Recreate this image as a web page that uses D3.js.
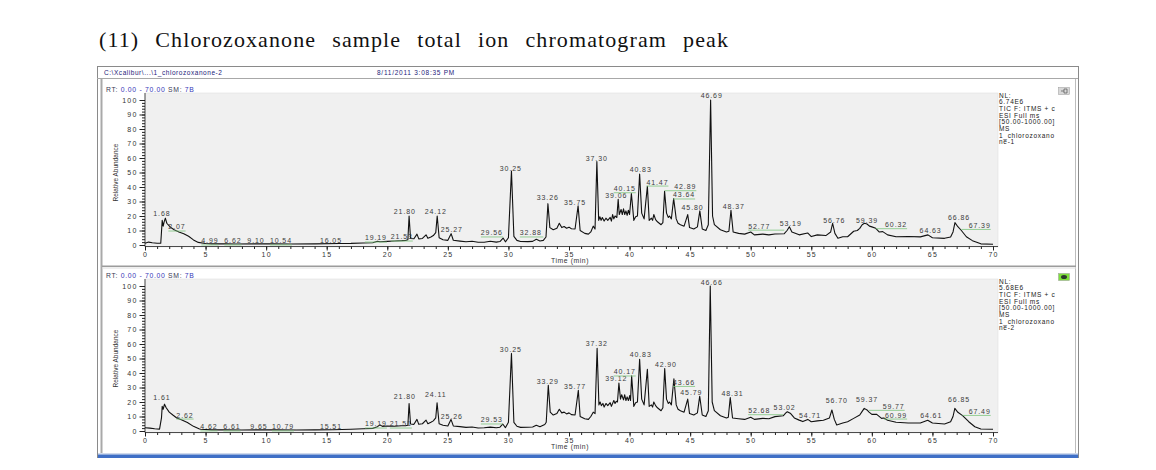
<!DOCTYPE html>
<html>
<head>
<meta charset="utf-8">
<script src="https://cdn.jsdelivr.net/npm/d3@7"></script>
<style>
  body { margin: 0; background: #fff; }
  svg { display: block; }
  .tk text { font-family: "Liberation Sans", Arial, sans-serif; font-size: 7px; fill: #333; letter-spacing: 1.2px; }
  .tk path { display: none; }
  .tk line { stroke: #222; }
</style>
</head>
<body>
<div class="chart"></div>
<script>
var titleText = "(11) Chlorozoxanone sample total ion chromatogram peak";
var filePath = "C:\\Xcalibur\\...\\1_chlorozoxanone-2";
var runDate = "8/11/2011 3:08:35 PM";

var xTicks = d3.range(0, 71, 5);
var yTicks = d3.range(0, 101, 10);

// sample 1 : [time (min), relative abundance]
var trace1 = [
  [0.0,1.2],[0.3,2.0],[0.6,1.5],[1.0,1.2],[1.3,1.2],[1.36,9],[1.42,17],[1.5,13],[1.58,16],[1.68,18.5],
  [1.8,15],[2.07,12.5],[2.4,10.5],[2.8,9],[3.2,7.8],[3.6,6],[4.0,3.5],[4.4,1.8],[4.99,1.0],[5.5,0.8],
  [6.62,0.9],[7.5,0.7],[9.1,0.8],[10.54,0.8],[12,0.7],[14,0.8],[16.05,1.0],[17,1.1],[18,1.4],[18.8,1.6],
  [19.19,2.6],[19.4,2.2],[20,2.5],[20.6,2.8],[21.2,3.0],[21.53,3.2],[21.7,3.6],[21.8,20],[21.92,4.5],[22.2,4.3],
  [22.45,7.5],[22.6,4.2],[22.9,4.5],[23.2,7],[23.35,4.6],[23.6,5.5],[23.8,6.5],[24.0,8.5],[24.12,20],[24.28,5],
  [24.6,3.6],[25.0,3.2],[25.27,7.8],[25.45,3.3],[26,2.7],[26.5,2.2],[27,2.6],[27.5,1.9],[28,1.9],[28.5,2.6],
  [29,2.0],[29.3,2.4],[29.56,4.8],[29.75,2.2],[30.0,5],[30.25,51],[30.45,6],[30.7,3.2],[31,2.4],[31.6,2.3],
  [32.0,2.5],[32.3,4],[32.6,2.8],[32.88,3.2],[33.1,5.5],[33.26,28.5],[33.42,12],[33.7,10.5],[34.0,11.5],[34.2,15],
  [34.4,12],[34.6,12.8],[34.8,11.6],[35.0,12.3],[35.2,11.2],[35.5,11],[35.75,27],[35.92,10],[36.3,8],[36.6,7.5],
  [36.8,9],[37.0,13],[37.15,11],[37.3,57.5],[37.45,17],[37.55,19.5],[37.65,17],[37.75,19],[37.9,16.5],[38.05,18.5],
  [38.2,17],[38.4,19],[38.5,16.5],[38.6,21],[38.7,18],[38.8,20],[38.95,19],[39.06,31.5],[39.15,21],[39.3,24.5],
  [39.4,21],[39.5,25],[39.6,21],[39.7,23.5],[39.8,20.5],[39.9,24],[40.0,21],[40.15,35.5],[40.35,17],[40.5,19.5],
  [40.65,20],[40.83,49],[41.0,22],[41.2,18],[41.47,40.5],[41.62,17],[41.8,18.5],[41.9,17],[42.0,21],[42.15,17.5],
  [42.3,16],[42.45,15],[42.6,14],[42.75,15.5],[42.89,37],[43.05,22],[43.2,19],[43.3,20],[43.45,18],[43.64,32],
  [43.85,18],[44.0,15],[44.2,14],[44.5,13],[44.8,21],[44.95,12],[45.3,11],[45.6,12.5],[45.8,23.5],[46.0,11],
  [46.3,10],[46.5,14],[46.69,100],[46.85,20],[47.0,14],[47.5,10.5],[48.0,9],[48.2,9.5],[48.37,24],[48.55,9],
  [49,8],[49.5,7.5],[50.0,9],[50.3,7],[51,7.5],[51.5,7],[52,7.6],[52.77,7.8],[53.0,10],[53.19,12.6],
  [53.4,9],[54,7],[54.7,8.3],[55,5.8],[55.5,7],[56.2,6.5],[56.6,9],[56.76,15],[56.95,8],[57.2,4.6],
  [57.6,5.7],[58,5.7],[58.5,9.5],[58.8,10],[59.0,11.5],[59.2,14],[59.39,15],[59.6,14.5],[59.8,13],[60.0,12.5],
  [60.32,11.5],[60.6,9],[60.9,9.2],[61.3,7],[62,5.7],[63,5.9],[64,5.6],[64.63,7],[65,5],[66,4.6],
  [66.5,5.5],[66.7,9],[66.86,15.4],[67.1,12.6],[67.39,10],[67.8,5.7],[68.3,3],[69,0.8],[70,0.5]
];

// sample 2
var trace2 = [
  [0.0,2.2],[0.4,2.0],[0.8,1.5],[1.2,1.3],[1.36,9],[1.42,17],[1.5,15],[1.61,18.5],[1.75,16],[2.0,13],
  [2.3,11],[2.62,9],[3.0,7.8],[3.5,5.8],[4.0,3.2],[4.5,1.4],[4.62,1.2],[5.5,0.8],[6.61,0.9],[8,0.7],
  [9.65,0.8],[10.79,0.8],[12.5,0.7],[14,0.8],[15.51,0.9],[17,1.2],[18,1.5],[18.8,1.8],[19.19,3],[19.4,4.2],
  [19.6,3.2],[20,3.5],[20.6,3.3],[21.2,3.6],[21.51,3.6],[21.7,4],[21.8,19],[21.92,4.8],[22.2,4.6],[22.45,8],
  [22.6,4.6],[22.9,5],[23.2,7.5],[23.35,5],[23.6,6],[23.8,7],[24.0,9],[24.11,19.5],[24.28,5],[24.6,4],
  [25.0,3.5],[25.26,8],[25.45,3.5],[26,3],[26.5,2.5],[27,2.8],[27.5,2.1],[28,2.2],[28.5,2.7],[29,2.2],
  [29.3,2.6],[29.53,4.8],[29.75,2.3],[30.0,6],[30.25,53.5],[30.45,6],[30.7,3.3],[31,2.5],[31.6,2.6],[32.0,2.8],
  [32.3,4],[32.6,3],[33.0,4.5],[33.12,6],[33.29,31.5],[33.45,13],[33.7,11],[34.0,12],[34.2,15],[34.4,12.5],
  [34.6,13],[34.8,11.8],[35.0,12.5],[35.2,11.3],[35.5,11],[35.77,28],[35.92,10],[36.3,8.5],[36.6,8],[36.8,10],
  [37.0,13],[37.15,12],[37.32,57],[37.47,18],[37.57,20],[37.67,17.5],[37.8,19],[37.9,16.5],[38.05,19],[38.2,17.5],
  [38.4,19.5],[38.5,17],[38.7,21],[38.8,19],[38.9,20.5],[39.0,20],[39.12,33],[39.25,22],[39.35,25],[39.5,21.5],
  [39.6,25],[39.7,21],[39.8,23.5],[39.9,21],[40.02,24.5],[40.08,21],[40.17,38],[40.35,17],[40.5,19.5],[40.65,20],
  [40.83,49.5],[41.0,22],[41.2,18],[41.47,42.5],[41.62,17],[41.8,18],[41.9,16.5],[42.0,20],[42.15,17.5],[42.3,16],
  [42.45,15],[42.6,14],[42.75,16],[42.9,43],[43.05,22],[43.2,19],[43.3,20],[43.45,18],[43.66,36],[43.85,18],
  [44.0,15],[44.2,14],[44.5,13],[44.8,22],[44.95,12],[45.3,11],[45.6,12.5],[45.79,24],[46.0,11],[46.3,10],
  [46.5,14],[46.66,100],[46.82,20],[47.0,14],[47.5,10.5],[48.0,9],[48.15,9.5],[48.31,23],[48.5,9],[49,8.5],
  [49.5,8],[50.0,9.5],[50.3,8],[51,8.7],[51.5,8.5],[52,9.9],[52.68,10.5],[52.9,12.5],[53.02,13.3],[53.3,12],
  [53.6,9],[54,7.5],[54.3,6.5],[54.71,8],[55,6.4],[55.5,7],[56.0,7.4],[56.5,9],[56.7,14.5],[56.9,8],
  [57.1,4.2],[57.6,5.5],[58,6.4],[58.5,8.7],[59,11],[59.2,13.5],[59.37,15.6],[59.6,14.5],[59.77,13],[60,11.5],
  [60.4,11.5],[60.8,8.7],[60.99,9],[61.3,7.4],[62,6],[63,5.5],[64,5.5],[64.61,7.4],[65,5.5],[66,4.8],
  [66.5,6.4],[66.7,10],[66.85,15.6],[67.1,12.9],[67.49,10.6],[68,6.4],[68.5,2.9],[69,1.4],[70,1.2]
];

// peak labels: [text, label time, label level, green leader]
var labels1 = [
  ["1.68",1.4,22],["2.07",2.64,12.4,1],["4.99",5.36,2.8,1],["6.62",7.26,2.8,1],["9.10",9.16,2.8],
  ["10.54",11.22,2.8,1],["16.05",15.35,3.4],["19.19",19.06,4.8,1],["21.53",21.2,5.5,1],["21.80",21.45,23.4],
  ["24.12",24.0,23.4],["25.27",25.33,11],["29.56",28.63,8.3,1],["30.25",30.2,53],["32.88",31.85,8.3,1],
  ["33.26",33.25,33],["35.75",35.5,29],["37.30",37.29,59.3],["39.06",38.9,34],["40.15",39.6,38.8,1],
  ["40.83",40.92,51.7],["41.47",42.3,43.4,1],["42.89",44.6,40.2,1],["43.64",44.5,34.5,1],["45.80",45.2,26],
  ["46.69",46.78,102.8],["48.37",48.6,26.5],["52.77",50.7,13,1],["53.19",53.3,14.5],["56.76",56.9,17.2],
  ["59.39",59.6,17.2],["60.32",62,14,1],["64.63",64.85,9.7],["66.86",67.2,18.6],["67.39",68.9,13.5,1]
];
var labels2 = [
  ["1.61",1.4,22.8],["2.62",3.3,11,1],["4.62",5.28,2.8,1],["6.61",7.18,2.8,1],["9.65",9.4,2.8],
  ["10.79",11.39,2.8,1],["15.51",15.35,2.8],["19.19",19.06,4.8,1],["21.51",21.12,4.8,1],["21.80",21.45,24],
  ["24.11",24.0,24.8],["25.26",25.33,10.3],["29.53",28.63,7.6,1],["30.25",30.2,55.9],["33.29",33.25,33.8],
  ["35.77",35.5,31],["37.32",37.29,60],["39.12",38.9,35.9],["40.17",39.6,40.7,1],["40.83",40.92,52.4],
  ["42.90",43.0,45.7],["43.66",44.5,33.5,1],["45.79",45.1,26.4],["46.66",46.78,102.5],["48.31",48.5,26],
  ["52.68",50.7,14,1],["53.02",52.8,16],["54.71",54.9,11],["56.70",57.1,21],["59.37",59.6,22],
  ["59.77",61.8,17,1],["60.99",62,11,1],["64.61",64.9,11],["66.85",67.2,22],["67.49",68.9,13.5,1]
];

var info1 = ["NL:", "6.74E6", "TIC F: ITMS + c", "ESI Full ms", "[50.00-1000.00]", "MS", "1_chlorozoxano", "ne-1"];
var info2 = ["NL:", "5.68E6", "TIC F: ITMS + c", "ESI Full ms", "[50.00-1000.00]", "MS", "1_chlorozoxano", "ne-2"];

var W = 1156, H = 470;
var sans = "'Liberation Sans', Arial, sans-serif";
var svg = d3.select(".chart").append("svg").attr("width", W).attr("height", H);

// title, spread across like the justified line in the document
var title = svg.append("text")
  .attr("x", 99).attr("y", 47)
  .attr("font-family", "'Liberation Serif', 'DejaVu Serif', serif")
  .attr("font-size", 22).attr("letter-spacing", 1.1).attr("fill", "#111")
  .text(titleText);
var tw = title.node().getBBox().width;
title.style("word-spacing", ((630 - tw) / (titleText.split(" ").length - 1)) + "px");

// screenshot frame
svg.append("rect").attr("x", 97.5).attr("y", 66.5).attr("width", 981).attr("height", 391)
  .attr("fill", "#fff").attr("stroke", "#8a8a8a");
svg.append("line").attr("x1", 97).attr("x2", 1078).attr("y1", 78.5).attr("y2", 78.5).attr("stroke", "#a8a8a8");
svg.append("rect").attr("x", 100.5).attr("y", 79).attr("width", 2).attr("height", 374).attr("fill", "#a9a9a9");
svg.append("line").attr("x1", 1075.5).attr("x2", 1075.5).attr("y1", 79).attr("y2", 453).attr("stroke", "#bdbdbd");
svg.append("rect").attr("x", 102).attr("y", 265.5).attr("width", 974).attr("height", 1.5).attr("fill", "#9c9c9c");
svg.append("line").attr("x1", 102).attr("x2", 1076).attr("y1", 268).attr("y2", 268).attr("stroke", "#dedede");
svg.append("rect").attr("x", 98).attr("y", 453).attr("width", 980).attr("height", 1.5).attr("fill", "#cfd9ec");
svg.append("rect").attr("x", 98).attr("y", 454.5).attr("width", 980).attr("height", 3.5).attr("fill", "#3f6fc6");

svg.append("text").attr("x", 104).attr("y", 74.5).attr("font-family", sans).attr("font-size", 6.5)
  .attr("letter-spacing", 0.55).attr("fill", "#23237a").text(filePath);
svg.append("text").attr("x", 377).attr("y", 74.5).attr("font-family", sans).attr("font-size", 6.5)
  .attr("letter-spacing", 0.75).attr("fill", "#23237a").text(runDate);

var panels = [
  { trace: trace1, labels: labels1, info: info1, icon: "#d8d8d8" },
  { trace: trace2, labels: labels2, info: info2, icon: "#7fe03c" }
];

var x = d3.scaleLinear().domain([0, 70]).range([145, 993]);

panels.forEach(function (p, i) {
  var off = i * 186;
  var y = d3.scaleLinear().domain([0, 100]).range([245 + off, 100 + off]);
  var g = svg.append("g");

  // RT header
  var rt = g.append("text").attr("x", 106).attr("y", 91.5 + off)
    .attr("font-family", sans).attr("font-size", 6.8).attr("letter-spacing", 0.7);
  rt.append("tspan").attr("fill", "#3a3a55").text("RT: ");
  rt.append("tspan").attr("fill", "#3636b8").text("0.00 - 70.00  ");
  rt.append("tspan").attr("fill", "#3a3a55").text("SM: ");
  rt.append("tspan").attr("fill", "#3636b8").text("7B");

  // plot background
  g.append("rect").attr("x", x(0)).attr("y", y(100) - 7)
    .attr("width", 998 - x(0)).attr("height", y(0) + 2 - (y(100) - 7))
    .attr("fill", "#f0f0f0").attr("stroke", "#dcdcdc").attr("stroke-width", 0.5);

  // axes
  g.append("g").attr("class", "tk").attr("transform", "translate(0," + (y(0) + 1.5) + ")")
    .call(d3.axisBottom(x).tickValues(d3.range(0, 71, 1)).tickSize(2.5).tickFormat(""));
  g.append("g").attr("class", "tk").attr("transform", "translate(0," + (y(0) + 1.5) + ")")
    .call(d3.axisBottom(x).tickValues(xTicks).tickSize(4).tickPadding(1.5));
  g.append("g").attr("class", "tk").attr("transform", "translate(" + x(0) + ",0)")
    .call(d3.axisLeft(y).tickValues(d3.range(0, 101, 2)).tickSize(3).tickFormat(""));
  g.append("g").attr("class", "tk").attr("transform", "translate(" + x(0) + ",0)")
    .call(d3.axisLeft(y).tickValues(yTicks).tickSize(5.5).tickPadding(2));
  g.append("line").attr("x1", x(0)).attr("x2", 998).attr("y1", y(0) + 1.5).attr("y2", y(0) + 1.5)
    .attr("stroke", "#222").attr("stroke-width", 0.8);
  g.append("line").attr("x1", x(0)).attr("x2", x(0)).attr("y1", y(100) - 7).attr("y2", y(0) + 1.5)
    .attr("stroke", "#222").attr("stroke-width", 0.8);

  g.append("text").attr("x", 570).attr("y", y(0) + 18).attr("text-anchor", "middle")
    .attr("font-family", sans).attr("font-size", 6.8).attr("letter-spacing", 0.6).attr("fill", "#333")
    .text("Time (min)");
  g.append("text").attr("transform", "translate(118," + y(50) + ") rotate(-90)")
    .attr("text-anchor", "middle").attr("font-family", sans).attr("font-size", 6.5)
    .attr("fill", "#333").text("Relative Abundance");

  // chromatogram
  g.append("path").datum(p.trace)
    .attr("d", d3.line().x(function (d) { return x(d[0]); }).y(function (d) { return y(d[1]); }))
    .attr("fill", "none").attr("stroke", "#111").attr("stroke-width", 1.1).attr("stroke-linejoin", "round");

  // peak labels
  p.labels.forEach(function (l) {
    var t = g.append("text").attr("x", x(l[1])).attr("y", y(l[2])).attr("dy", "0.35em")
      .attr("text-anchor", "middle").attr("font-family", sans).attr("font-size", 7)
      .attr("letter-spacing", 0.9).attr("fill", "#3c3c3c").text(l[0]);
    if (l[3]) {
      var b = t.node().getBBox();
      var px = x(+l[0]);
      g.append("line")
        .attr("x1", Math.min(px, b.x)).attr("x2", Math.max(px, b.x + b.width))
        .attr("y1", y(l[2]) + 4).attr("y2", y(l[2]) + 4)
        .attr("stroke", "#7cc47c").attr("stroke-width", 0.8);
    }
  });

  // info block on the right
  g.selectAll(".info").data(p.info).enter().append("text")
    .attr("x", 999).attr("y", function (d, k) { return 97.5 + off + k * 6.7; })
    .attr("font-family", sans).attr("font-size", 6.5).attr("letter-spacing", 0.7)
    .attr("fill", "#222").text(function (d) { return d; });

  // toolbar icon
  g.append("rect").attr("x", 1058.5).attr("y", 87.5 + off).attr("width", 11).attr("height", 7)
    .attr("fill", p.icon).attr("stroke", "#9a9a9a").attr("stroke-width", 0.5);
  if (i === 0) {
    g.append("path").attr("d", "M1061," + (91 + off) + "h3m0,-2v4h3v-4z").attr("fill", "none")
      .attr("stroke", "#555").attr("stroke-width", 0.7);
  } else {
    g.append("ellipse").attr("cx", 1064).attr("cy", 91 + off).attr("rx", 3).attr("ry", 2)
      .attr("fill", "#2c3a2c");
  }
});
</script>
</body>
</html>
